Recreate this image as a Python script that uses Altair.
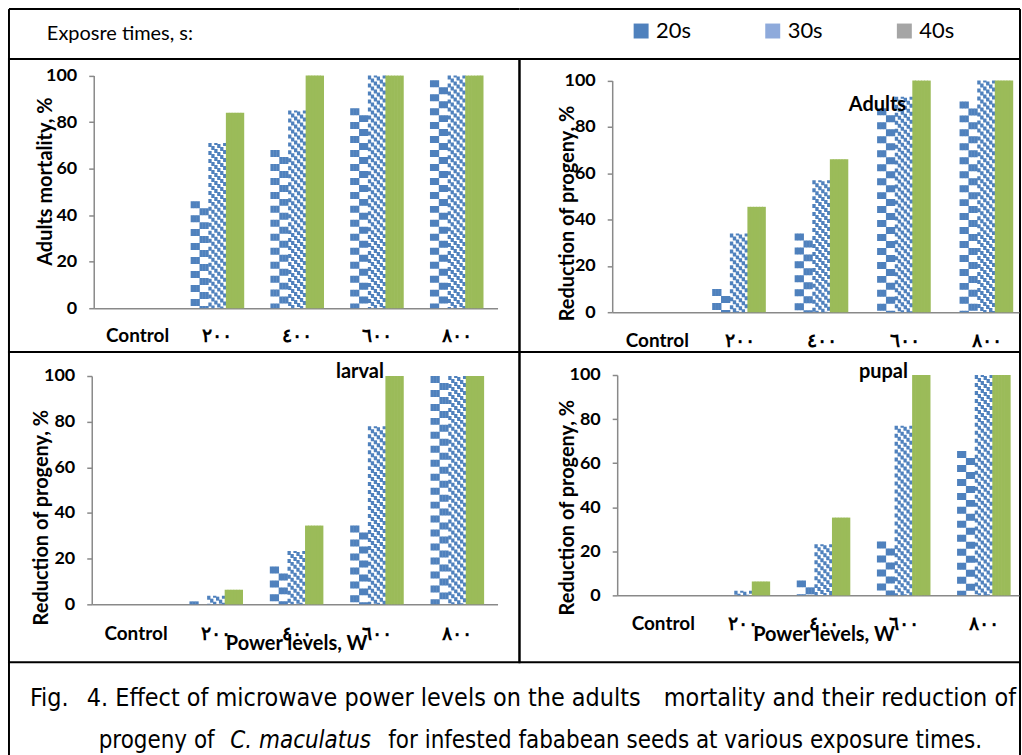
import altair as alt
import pandas as pd

# ---------------- data ----------------
categories = ["Control", "٢٠٠", "٤٠٠", "٦٠٠", "٨٠٠"]
series = ["20s", "30s", "40s"]

adults_mortality_20s = [0, 46, 68, 86, 98]
adults_mortality_30s = [0, 71, 85, 100, 100]
adults_mortality_40s = [0, 84, 100, 100, 100]

adults_progeny_20s = [0, 10, 34, 88, 91]
adults_progeny_30s = [0, 34, 57, 93, 100]
adults_progeny_40s = [0, 45.5, 66, 100, 100]

larval_progeny_20s = [0, 1.3, 16.6, 34.5, 100]
larval_progeny_30s = [0, 3.8, 23.4, 78, 100]
larval_progeny_40s = [0, 6.4, 34.5, 100, 100]

pupal_progeny_20s = [0, 0, 6.8, 24.4, 65.5]
pupal_progeny_30s = [0, 2.1, 23.2, 77, 100]
pupal_progeny_40s = [0, 6.3, 35.3, 100, 100]

y_ticks = [0, 20, 40, 60, 80, 100]

legend_title = "Exposre times, s:"
legend_labels = ["20s", "30s", "40s"]

y_title_mortality = "Adults mortality, %"
y_title_progeny = "Reduction of progeny, %"
x_title = "Power levels, W"
panel_labels = ["Adults", "larval", "pupal"]

caption_line1 = ["Fig.", "4. Effect of microwave power levels on the adults",
                 "mortality and their reduction of"]
caption_line2 = ["progeny of", "C. maculatus",
                 "for infested fababean seeds at various exposure times."]

# ---------------- style ----------------
BLUE = "#4F81BD"
GREEN = "#9BBB59"
GRAY = "#898989"
BOLD_FONT = "Lato"
CAP_FONT = "Liberation Sans Narrow, DejaVu Sans Condensed, DejaVu Sans"
P_INNER = 0.335
N_SUB = 6
slots = [f"{s}_{k}" for s in series for k in range(N_SUB)]
W1, W2 = 512, 502
H0, H1, H2, H3 = 50, 294, 311, 94
NOSTROKE = alt.ViewBackground(stroke="transparent")


def long_table(v20, v30, v40):
    rows = []
    for s, vals in zip(series, [v20, v30, v40]):
        for c, v in zip(categories, vals):
            for k in range(N_SUB):
                rows.append({"cat": c, "series": s, "k": k,
                             "slot": f"{s}_{k}", "value": v, "zero": 0})
    return pd.DataFrame(rows)


def panel(df, w, h, axis_x, zero_y, top_y, r1, step, c0,
          ytitle, ytitle_x, ytitle_y, lab_pad,
          xtitle=None, xtitle_x=0, xtitle_y=0,
          label=None, label_x=0, label_y=0):
    r0 = axis_x
    n = len(categories)
    span = r1 - r0
    p_outer = max(0.0, (span / step - n + P_INNER) / 2)
    outer = span - step * (n - P_INNER)
    bw = step * (1 - P_INNER)
    align = (c0 - bw / 2 - r0) / outer if outer > 0 else 0.5
    align = max(0.0, min(1.0, align))
    sw = bw / (3 * N_SUB) + 0.35

    xax = dict(labelFont=BOLD_FONT, labelFontWeight="bold", labelFontSize=19,
               labelColor="black", labelPadding=lab_pad, labelBaseline="middle",
               ticks=False, tickSize=0, domainColor=GRAY, domainWidth=1.5,
               offset=-(h - zero_y), labelAngle=0, labelOverlap=False, grid=False)
    if xtitle:
        xax.update(title=xtitle, titleX=xtitle_x, titleY=xtitle_y,
                   titleFont=BOLD_FONT, titleFontSize=20, titleFontWeight="bold",
                   titleAlign="center", titleBaseline="middle", titleColor="black")
    else:
        xax["title"] = None

    yax = dict(values=y_ticks, labelFont=BOLD_FONT, labelFontWeight="bold",
               labelFontSize=18, labelColor="black", labelPadding=12,
               tickSize=5, tickColor=GRAY, tickWidth=1.5,
               domainColor=GRAY, domainWidth=1.5, offset=-axis_x, grid=False,
               title=ytitle, titleX=ytitle_x, titleY=ytitle_y, titleAngle=270,
               titleAlign="center", titleBaseline="middle", titleFont=BOLD_FONT,
               titleFontSize=20, titleFontWeight="bold", titleColor="black")

    base = alt.Chart(df).encode(
        x=alt.X("cat:N", sort=categories,
                scale=alt.Scale(domain=categories, range=[r0, r1],
                                paddingInner=P_INNER, paddingOuter=p_outer,
                                align=align),
                axis=alt.Axis(**xax)),
        xOffset=alt.XOffset("slot:N",
                            scale=alt.Scale(domain=slots, paddingInner=0,
                                            paddingOuter=0)),
        y=alt.Y("value:Q",
                scale=alt.Scale(domain=[0, 100], range=[zero_y, top_y], nice=False),
                axis=alt.Axis(**yax)),
        y2=alt.Y2("zero:Q"),
    )

    layers = []
    # 20s: checkerboard
    layers.append(base.transform_filter((alt.datum.series == "20s") & (alt.datum.k < 3))
                  .mark_rule(color=BLUE, strokeWidth=sw, strokeDash=[7, 7], strokeDashOffset=0))
    layers.append(base.transform_filter((alt.datum.series == "20s") & (alt.datum.k >= 3))
                  .mark_rule(color=BLUE, strokeWidth=sw, strokeDash=[7, 7], strokeDashOffset=7))
    # 30s: diagonal stripes
    for k in range(N_SUB):
        layers.append(base.transform_filter((alt.datum.series == "30s") & (alt.datum.k == k))
                      .mark_rule(color=BLUE, strokeWidth=sw, strokeDash=[4, 4],
                                 strokeDashOffset=(-3 * k) % 8))
    # 40s: solid
    layers.append(base.transform_filter(alt.datum.series == "40s")
                  .mark_rule(color=GREEN, strokeWidth=sw + 0.3))

    if label:
        layers.append(
            alt.Chart(pd.DataFrame({"t": [label]}))
            .mark_text(font=BOLD_FONT, fontWeight="bold", fontSize=20, color="black",
                       align="center", baseline="middle")
            .encode(x=alt.value(label_x), y=alt.value(label_y), text="t:N"))

    return alt.layer(*layers).properties(width=w, height=h)


border_df = pd.DataFrame({"b": [0]})


def hline(y, x1, x2):
    return alt.Chart(border_df).mark_rule(color="black", strokeWidth=2).encode(
        x=alt.value(x1), x2=alt.value(x2), y=alt.value(y))


def vline(x, y1, y2):
    return alt.Chart(border_df).mark_rule(color="black", strokeWidth=2).encode(
        x=alt.value(x), y=alt.value(y1), y2=alt.value(y2))


def text_chart(t, x, y, align="left", **kw):
    return alt.Chart(pd.DataFrame({"t": [t]})).mark_text(
        align=align, color="black", **kw).encode(
        x=alt.value(x), y=alt.value(y), text="t:N")


# ---------------- panels ----------------
tl = panel(long_table(adults_mortality_20s, adults_mortality_30s, adults_mortality_40s),
           w=W1, h=H1, axis_x=85, zero_y=250, top_y=16.7, r1=490, step=80, c0=129,
           ytitle=y_title_mortality, ytitle_x=-48.7, ytitle_y=122.5, lab_pad=27)

tr = panel(long_table(adults_progeny_20s, adults_progeny_30s, adults_progeny_40s),
           w=W2, h=H1, axis_x=93, zero_y=254, top_y=21.7, r1=501, step=82.7, c0=138.3,
           ytitle=y_title_progeny, ytitle_x=-45.3, ytitle_y=154.5, lab_pad=28,
           label=panel_labels[0], label_x=359, label_y=46)

bl = panel(long_table(larval_progeny_20s, larval_progeny_30s, larval_progeny_40s),
           w=W1, h=H2, axis_x=83, zero_y=253, top_y=24, r1=490, step=80.6, c0=127.4,
           ytitle=y_title_progeny, ytitle_x=-50, ytitle_y=165.5, lab_pad=29,
           xtitle=x_title, xtitle_x=288, xtitle_y=39,
           label=panel_labels[1], label_x=352, label_y=20)

br = panel(long_table(pupal_progeny_20s, pupal_progeny_30s, pupal_progeny_40s),
           w=W2, h=H2, axis_x=98, zero_y=244, top_y=23, r1=501, step=80.4, c0=144.2,
           ytitle=y_title_progeny, ytitle_x=-50.3, ytitle_y=155.5, lab_pad=28,
           xtitle=x_title, xtitle_x=305, xtitle_y=39,
           label=panel_labels[2], label_x=365, label_y=20)

# ---------------- legend row (two cells) ----------------
leg_left = alt.layer(
    hline(0, 0, W1), hline(H0, 0, W1), vline(0, 0, H0),
    text_chart(legend_title, 38, 25, baseline="middle", font="Lato", fontSize=20),
).properties(width=W1, height=H0, view=NOSTROKE)

leg_base = alt.Chart(pd.DataFrame({"label": legend_labels}))
leg_x = alt.X("label:N", sort=legend_labels,
              scale=alt.Scale(type="point", domain=legend_labels, range=[122, 386], padding=0),
              axis=None)
leg_sq = leg_base.mark_square(size=225, opacity=1).encode(
    x=leg_x, y=alt.value(22),
    color=alt.Color("label:N", scale=alt.Scale(domain=legend_labels,
                                               range=[BLUE, "#8EAADB", "#A5A5A5"]),
                    legend=None))
leg_txt = leg_base.mark_text(align="left", baseline="middle", dx=15, font="Lato",
                             fontSize=22, color="black").encode(
    x=leg_x, y=alt.value(22), text="label:N")
leg_right = alt.layer(
    hline(0, 0, W2), hline(H0, 0, W2), vline(W2, 0, H0), leg_sq, leg_txt,
).properties(width=W2, height=H0, view=NOSTROKE)

# ---------------- caption row (two cells) ----------------
cap1_kw = dict(baseline="alphabetic", font=CAP_FONT, fontSize=25)
cap2_kw = dict(baseline="alphabetic", font=CAP_FONT, fontSize=24)
cap_left = alt.layer(
    vline(0, 0, H3),
    text_chart(caption_line1[0], 21, 44, **cap1_kw),
    text_chart(caption_line1[1], 78, 44, **cap1_kw),
    text_chart(caption_line1[2], 1010, 44, align="right", **cap1_kw),
    text_chart(caption_line2[0], 90, 86, **cap2_kw),
    text_chart(caption_line2[1], 222, 86, fontStyle="italic", **cap2_kw),
    text_chart(caption_line2[2], 976, 86, align="right", **cap2_kw),
).properties(width=W1, height=H3, view=NOSTROKE)
cap_right = alt.layer(vline(W2, 0, H3)).properties(width=W2, height=H3, view=NOSTROKE)

chart = alt.concat(leg_left, leg_right, tl, tr, bl, br, cap_left, cap_right,
                   columns=2, spacing=0, bounds="flush") \
    .configure_view(stroke="black", strokeWidth=2) \
    .properties(padding={"left": 7, "top": 6, "right": 0, "bottom": 0},
                background="white")

chart.save("out.html", embed_options={"renderer": "svg", "actions": False})
